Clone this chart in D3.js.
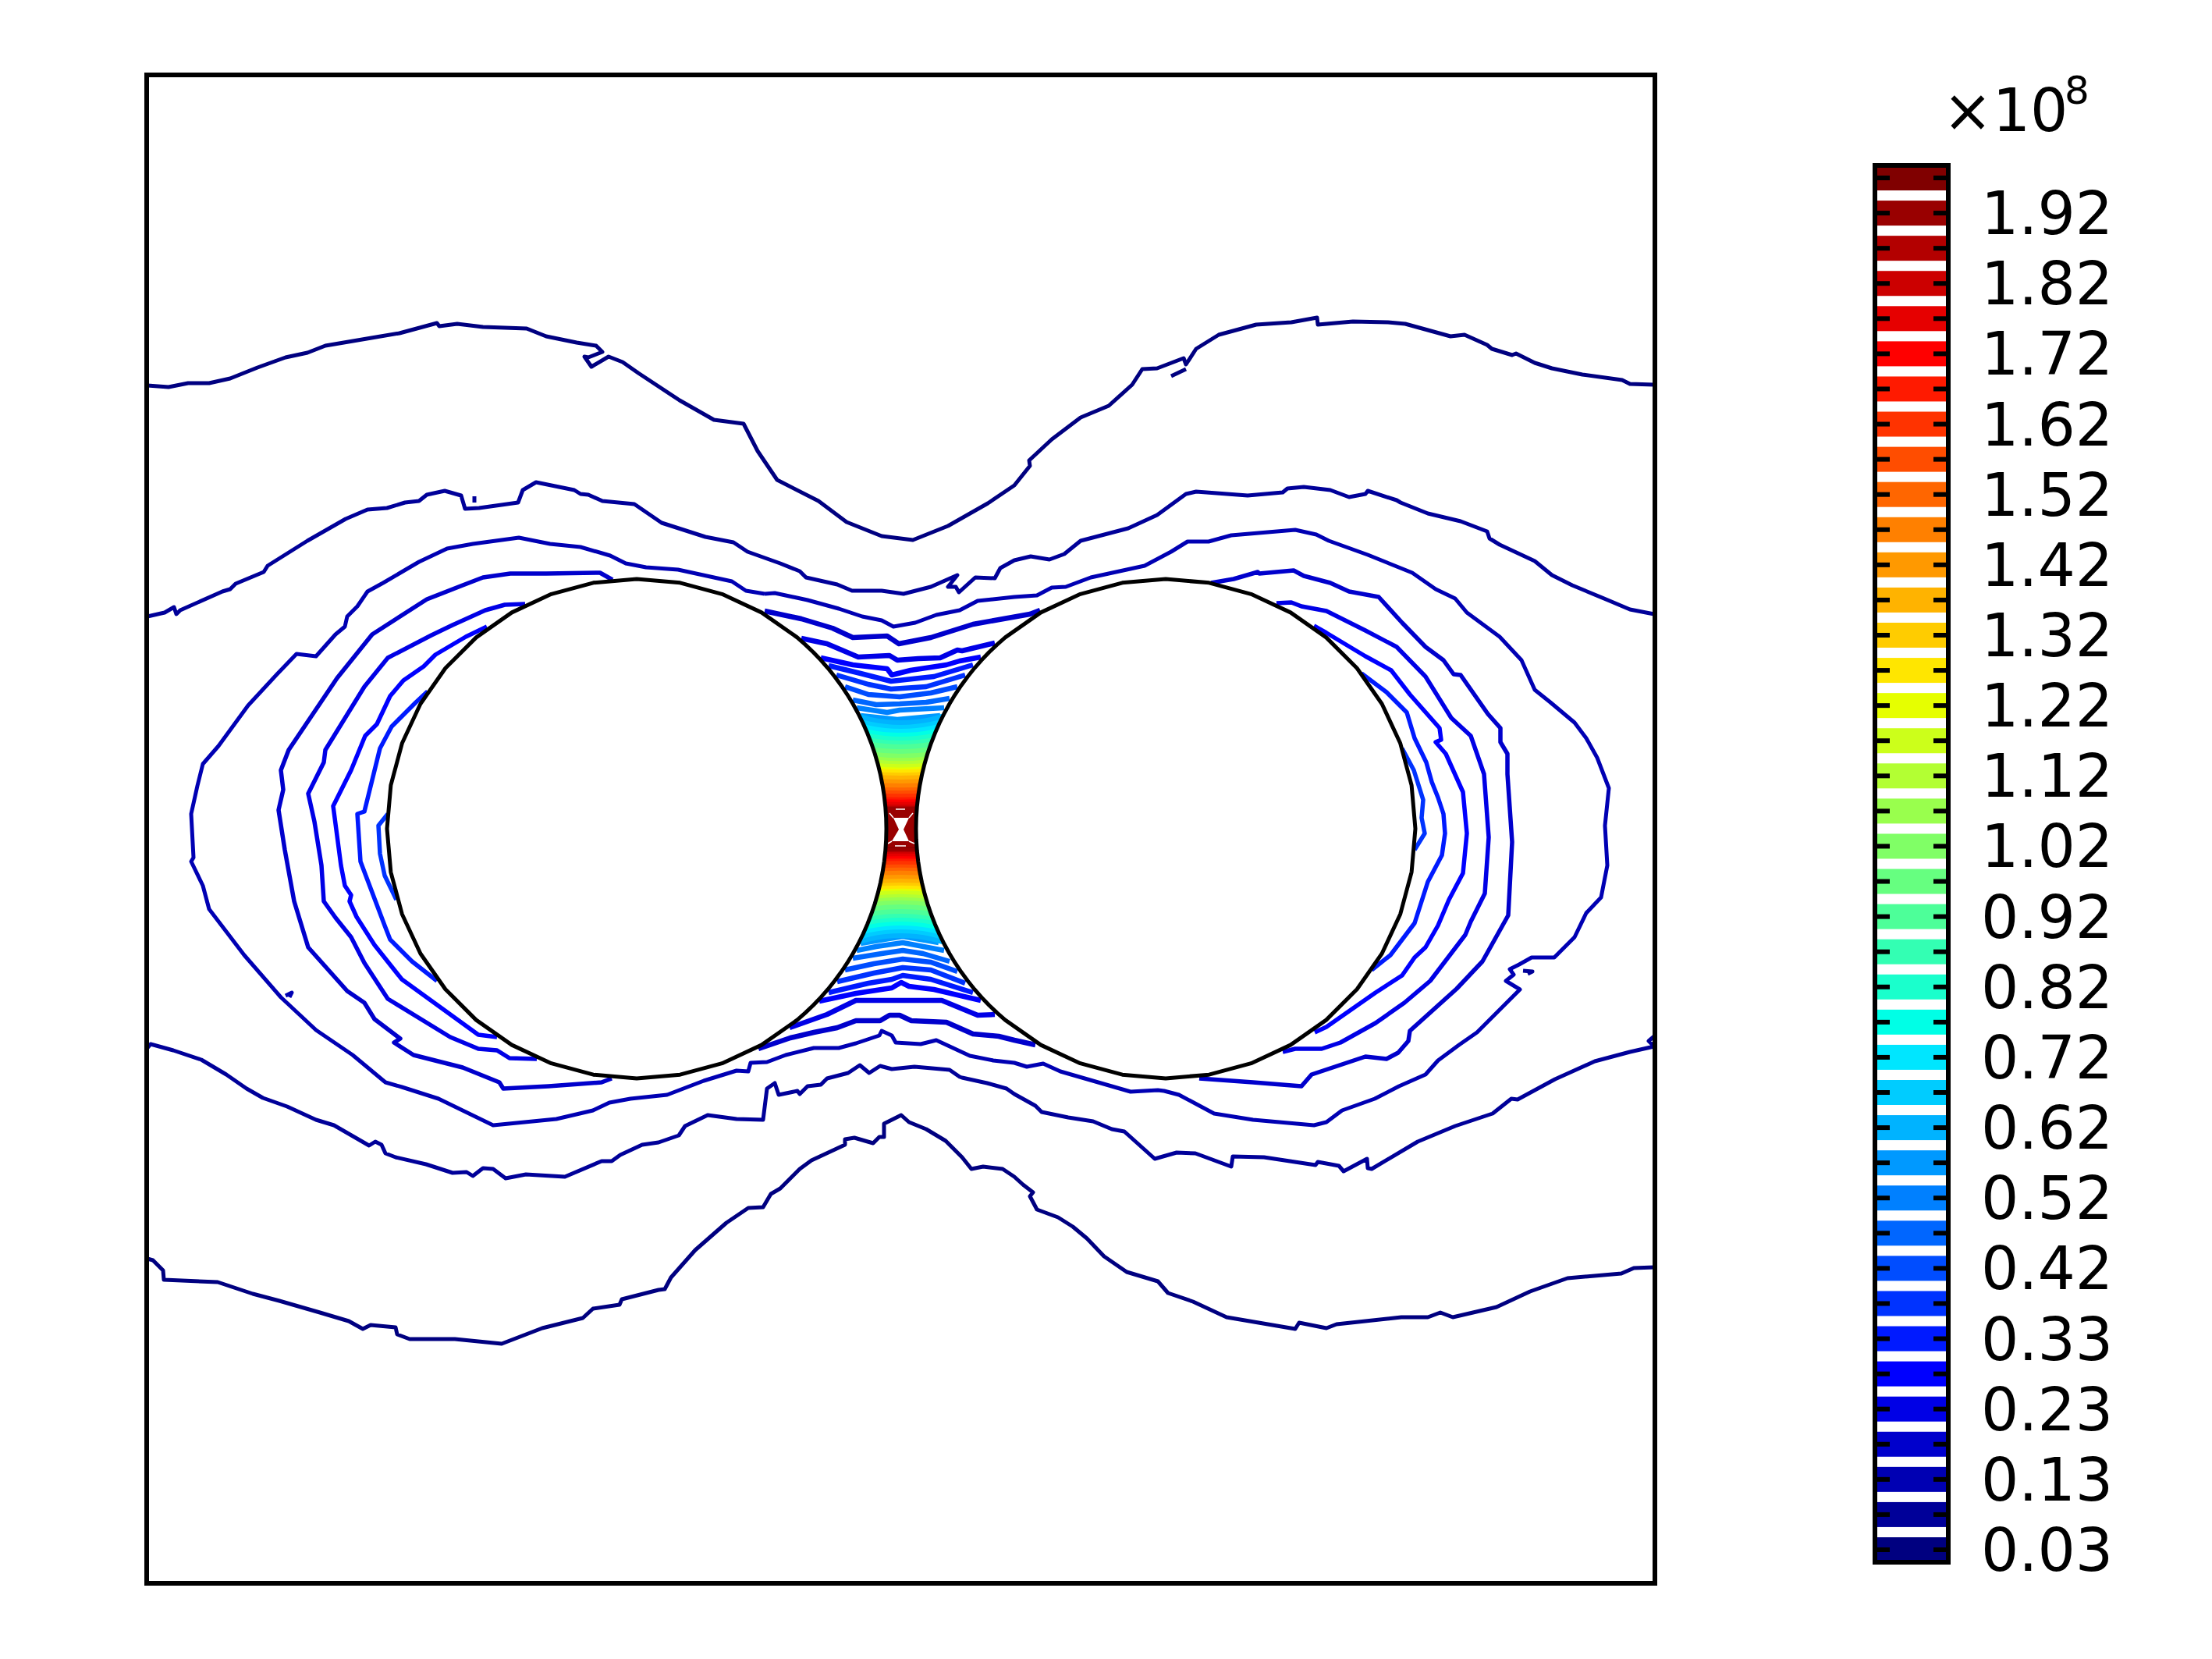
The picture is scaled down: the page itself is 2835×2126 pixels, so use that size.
<!DOCTYPE html>
<html>
<head>
<meta charset="utf-8">
<script src="https://cdnjs.cloudflare.com/ajax/libs/d3/7.8.5/d3.min.js"></script>
<style>html,body{margin:0;background:#fff}svg{display:block}text{font-family:"DejaVu Sans",sans-serif;fill:#000}</style>
</head>
<body>
<div id="chart"></div>
<script>
// Plot-plane units: 0..1933 across, 0..1933 down.
const contourA=[[1,398],[28,400],[53,395],[80,395],[107,389],[142,375],[178,362],[206,356],[229,347],[288,337],[324,331],[372,318],[375,322],[398,319],[431,323],[487,325],[512,335],[551,343],[576,347],[584,355],[566,362],[561,361],[570,374],[592,361],[610,368],[630,382],[683,417],[727,442],[765,447],[783,482],[808,519],[861,546],[897,573],[942,591],[982,596],[1027,578],[1078,549],[1112,526],[1132,501],[1131,494],[1160,467],[1197,439],[1233,424],[1263,397],[1276,377],[1295,376],[1329,363],[1332,371],[1345,351],[1374,333],[1422,320],[1467,317],[1500,311],[1501,320],[1546,316],[1591,317],[1613,319],[1642,327],[1671,335],[1689,333],[1718,346],[1724,351],[1750,359],[1755,357],[1779,369],[1801,376],[1840,384],[1891,391],[1901,396],[1932,397]];
const contourB=[[1,694],[23,689],[35,682],[38,691],[43,686],[97,662],[107,659],[114,652],[150,637],[155,629],[206,597],[255,569],[283,557],[308,555],[331,548],[349,546],[359,538],[382,533],[403,539],[408,556],[426,555],[476,548],[482,532],[499,522],[548,532],[556,537],[566,538],[584,546],[625,550],[660,574],[716,592],[752,599],[770,611],[812,626],[837,636],[845,644],[885,653],[904,661],[942,661],[970,665],[1005,656],[1039,641],[1027,656],[1037,656],[1041,663],[1062,644],[1087,645],[1094,632],[1112,622],[1133,617],[1157,621],[1176,614],[1197,597],[1258,581],[1295,564],[1332,537],[1345,534],[1411,539],[1456,535],[1462,530],[1483,528],[1517,532],[1541,541],[1562,537],[1565,533],[1602,545],[1607,548],[1642,562],[1684,572],[1718,585],[1721,594],[1734,602],[1779,623],[1801,641],[1827,654],[1875,674],[1901,685],[1932,691]];
const contourC=[[792,665],[768,661],[750,649],[681,634],[640,631],[614,626],[594,616],[556,605],[517,601],[477,593],[418,601],[385,607],[349,624],[303,651],[283,662],[270,681],[257,694],[254,707],[242,717],[217,745],[192,742],[167,768],[130,808],[92,860],[72,883],[65,911],[57,947],[60,1003],[57,1008],[72,1039],[80,1069],[125,1128],[172,1182],[217,1224],[264,1256],[306,1291],[327,1297],[374,1312],[444,1346],[525,1338],[572,1327],[593,1317],[620,1312],[667,1307],[714,1289],[756,1276],[771,1277],[774,1266],[795,1265],[819,1256],[855,1247],[887,1247],[909,1241],[939,1231],[942,1225],[955,1231],[960,1240],[992,1242],[1012,1237],[1055,1257],[1085,1263],[1112,1266],[1128,1271],[1149,1267],[1171,1277],[1261,1303],[1296,1301],[1304,1302],[1323,1307],[1368,1331],[1418,1339],[1496,1346],[1512,1342],[1532,1327],[1574,1312],[1605,1296],[1639,1281],[1655,1263],[1682,1243],[1705,1227],[1725,1207],[1760,1172],[1742,1161],[1752,1153],[1747,1146],[1759,1140],[1775,1131],[1804,1131],[1830,1105],[1845,1074],[1864,1054],[1872,1013],[1869,962],[1874,914],[1859,875],[1845,850],[1830,830],[1799,804],[1779,788],[1762,750],[1734,720],[1692,689],[1677,671],[1652,659],[1622,638],[1565,615],[1515,597],[1499,589],[1472,583],[1390,590],[1361,598],[1334,598],[1313,611],[1279,629],[1210,644],[1178,656],[1160,657],[1141,667],[1112,669],[1065,674],[1042,686],[1012,692],[985,702],[957,707],[942,699],[917,694],[887,684],[847,673],[805,664],[792,665]];
const contourE=[[1,1247],[5,1242],[34,1250],[70,1262],[102,1281],[128,1299],[149,1311],[180,1322],[217,1339],[240,1346],[285,1372],[293,1367],[301,1371],[306,1382],[319,1387],[358,1396],[392,1407],[410,1406],[418,1411],[431,1401],[444,1402],[460,1414],[486,1409],[536,1412],[583,1392],[596,1392],[607,1384],[635,1371],[656,1368],[682,1359],[690,1347],[719,1333],[756,1338],[790,1339],[795,1299],[805,1292],[810,1307],[834,1302],[837,1306],[847,1296],[864,1294],[872,1286],[899,1279],[914,1269],[926,1279],[940,1270],[955,1274],[984,1271],[1029,1275],[1042,1284],[1045,1285],[1077,1292],[1102,1299],[1112,1306],[1139,1321],[1147,1329],[1181,1336],[1213,1341],[1237,1351],[1253,1354],[1292,1389],[1320,1381],[1344,1382],[1390,1399],[1392,1386],[1432,1387],[1498,1397],[1501,1393],[1528,1398],[1534,1405],[1564,1389],[1565,1401],[1570,1402],[1629,1367],[1677,1347],[1725,1331],[1749,1312],[1757,1313],[1805,1287],[1856,1264],[1901,1252],[1932,1245],[1925,1238],[1932,1232]];
const contourF=[[1,1517],[8,1519],[21,1532],[22,1544],[91,1547],[136,1562],[170,1571],[222,1586],[259,1597],[277,1607],[287,1602],[319,1605],[321,1614],[337,1620],[395,1620],[455,1626],[507,1606],[559,1593],[572,1581],[606,1576],[609,1569],[656,1557],[664,1556],[672,1541],[703,1506],[743,1471],[771,1452],[790,1451],[800,1434],[812,1427],[837,1402],[852,1391],[895,1371],[895,1364],[907,1362],[931,1369],[939,1361],[945,1361],[945,1344],[967,1333],[977,1342],[999,1351],[1024,1366],[1045,1387],[1057,1402],[1072,1399],[1097,1402],[1112,1412],[1123,1422],[1136,1432],[1132,1437],[1141,1454],[1168,1464],[1187,1476],[1205,1491],[1227,1514],[1256,1534],[1296,1546],[1309,1561],[1341,1572],[1384,1592],[1472,1607],[1477,1599],[1512,1606],[1525,1601],[1608,1592],[1642,1592],[1658,1586],[1674,1592],[1730,1579],[1773,1559],[1821,1542],[1890,1536],[1906,1529],[1932,1528]];
const leftLevel3=[[597,647],[581,638],[512,639],[466,639],[431,644],[405,654],[359,672],[289,717],[244,773],[182,865],[172,891],[175,916],[169,942],[177,993],[189,1059],[207,1118],[232,1146],[257,1174],[279,1189],[292,1210],[325,1235],[317,1240],[342,1256],[405,1272],[452,1291],[457,1299],[515,1296],[583,1291],[596,1286]];
const leftLevel4=[[485,678],[459,679],[434,686],[392,705],[365,718],[309,747],[279,784],[229,865],[227,881],[207,921],[215,957],[224,1013],[227,1059],[242,1080],[262,1105],[279,1138],[309,1184],[389,1233],[425,1248],[449,1250],[465,1260],[500,1261]];
const leftLevel5=[[436,707],[409,720],[370,743],[355,758],[329,776],[312,796],[295,832],[280,847],[262,891],[239,937],[249,1013],[254,1039],[262,1051],[260,1059],[269,1079],[292,1115],[327,1159],[425,1230],[449,1233]];
const leftLevel6=[[360,790],[345,804],[314,835],[299,863],[279,944],[270,947],[274,1008],[305,1090],[312,1108],[340,1136],[372,1161]];
const leftLevel7=[[309,947],[297,962],[299,998],[305,1026],[320,1057]];
const rightLevel3=[[1364,651],[1393,646],[1424,637],[1426,639],[1470,635],[1483,642],[1517,651],[1541,662],[1579,669],[1609,702],[1639,733],[1662,750],[1675,768],[1684,769],[1719,819],[1735,837],[1735,855],[1744,870],[1744,896],[1750,983],[1745,1077],[1712,1136],[1679,1171],[1619,1225],[1617,1238],[1604,1253],[1589,1261],[1562,1258],[1538,1266],[1493,1281],[1480,1296],[1418,1291],[1349,1286]];
const rightLevel4=[[1448,677],[1467,676],[1480,681],[1512,687],[1562,712],[1602,733],[1639,771],[1672,824],[1697,847],[1714,896],[1720,977],[1715,1049],[1697,1085],[1690,1102],[1645,1161],[1612,1189],[1575,1215],[1530,1240],[1506,1248],[1472,1248],[1456,1252]];
const rightLevel5=[[1496,706],[1512,715],[1562,745],[1595,763],[1619,794],[1657,837],[1659,852],[1652,855],[1665,870],[1687,919],[1692,972],[1687,1023],[1669,1057],[1655,1090],[1639,1118],[1625,1131],[1609,1154],[1575,1176],[1512,1220],[1497,1227]];
const rightLevel6=[[1557,767],[1589,791],[1615,817],[1625,850],[1640,881],[1647,906],[1655,926],[1662,947],[1664,972],[1660,1000],[1642,1034],[1625,1087],[1594,1128],[1570,1147]];
const rightLevel7=[[1609,863],[1624,891],[1636,929],[1634,952],[1638,972],[1625,993]];
const gapTop3=[[792,687],[839,697],[879,709],[905,721],[949,719],[964,729],[1005,721],[1059,704],[1132,691],[1145,686]];
const gapTop4=[[839,722],[872,729],[912,746],[952,744],[962,750],[989,748],[1017,747],[1039,737],[1045,738],[1087,728]];
const gapTop5=[[864,747],[905,756],[949,761],[955,769],[979,763],[1025,756],[1042,751],[1069,746]];
const gapTop6=[[874,757],[915,767],[954,777],[1009,771],[1059,756]];
const gapTop7=[[884,769],[925,781],[954,787],[999,784],[1049,769]];
const gapTop8=[[895,784],[925,794],[965,797],[1005,792],[1039,784]];
const gapTop9=[[905,801],[935,807],[965,806],[999,804],[1029,799]];
const gapTop10=[[910,811],[949,817],[965,814],[1022,811]];
const gapTop11=[[915,821],[962,826],[1017,821]];
const gapBot3=[[784,1248],[825,1234],[855,1227],[885,1221],[909,1212],[940,1212],[952,1205],[965,1205],[980,1212],[1025,1214],[1059,1229],[1092,1232],[1112,1237],[1139,1243]];
const gapBot4=[[824,1221],[872,1204],[909,1186],[965,1186],[1019,1186],[1065,1205],[1087,1204]];
const gapBot5=[[862,1187],[909,1177],[955,1170],[967,1163],[977,1168],[1009,1172],[1069,1186]];
const gapBot6=[[874,1176],[925,1164],[955,1159],[969,1154],[1005,1159],[1059,1176]];
const gapBot7=[[885,1162],[932,1151],[969,1144],[1005,1147],[1049,1164]];
const gapBot8=[[895,1147],[932,1139],[969,1133],[1005,1137],[1039,1149]];
const gapBot9=[[905,1132],[942,1126],[969,1122],[995,1126],[1029,1136]];
const gapBot10=[[910,1122],[935,1117],[969,1112],[1022,1122]];
const gapBot11=[[915,1113],[969,1104],[1015,1112]];
const islandA=[[1313,386],[1332,377]];
const islandB=[[420,540],[420,548]];
const islandC=[[178,1180],[186,1176],[183,1182]];
const islandD=[[1764,1148],[1776,1149],[1770,1152]];
const contourLevels=[[0,contourA],[0,contourF],[0,islandA],[1,contourB],[1,contourE],[1,islandB],[1,islandD],[2,contourC],[2,islandC],[3,leftLevel3],[3,rightLevel3],[3,gapTop3],[3,gapBot3],[4,leftLevel4],[4,rightLevel4],[4,gapTop4],[4,gapBot4],[5,leftLevel5],[5,rightLevel5],[5,gapTop5],[5,gapBot5],[6,leftLevel6],[6,rightLevel6],[6,gapTop6],[6,gapBot6],[7,leftLevel7],[7,rightLevel7],[7,gapTop7],[7,gapBot7],[8,gapTop8],[8,gapBot8],[9,gapTop9],[9,gapBot9],[10,gapTop10],[10,gapBot10],[11,gapTop11],[11,gapBot11]];
const gapLines=[gapTop3,gapTop4,gapTop5,gapTop6,gapTop7,gapTop8,gapTop9,gapTop10,gapTop11,gapBot3,gapBot4,gapBot5,gapBot6,gapBot7,gapBot8,gapBot9,gapBot10,gapBot11];

// Distance of each high level from the narrowest point of the gap.
const neckLevels=[12,13,14,15,16,17,18,19,20,21,22,23,24,25,26,27,28,29,30,31,32,33,34,35,36,37,38,39];
const neckOffsets=[136,130,125,120,115,110,105,99,93,88,84,80,76,73,69,65,60,55,50,46,42,38,35,32,29,27,25,21];
const hourglass=[[957,952],[977,952],[970,967],[977,982],[955,982],[964,967]];
const chevrons=[[[960,941],[972,941]],[[959,988],[973,988]],[[952,946],[957,952]],[[982,946],[977,952]],[[950,985],[955,982]],[[984,985],[977,982]]];

const circleCentres=[[628,966,90],[1306,966,270]];
const circleRadius=320;
const gapCentre=[966.5,966.5];
const coarseFacet=d3.range(0,360,10);
const fineFacet=d3.range(-50,51,2.5);

const barLabels=["0.03","0.13","0.23","0.33","0.42","0.52","0.62","0.72","0.82","0.92","1.02","1.12","1.22","1.32","1.42","1.52","1.62","1.72","1.82","1.92"];
const barLevels=d3.range(40);
const rampStops=[0,5,14,15,24,25,34,39];
const rampColors=["#000080","#0000ff","#00e6ff","#00ffe6","#e6ff00","#ffe600","#ff0000","#800000"];

const W=2835,H=2126;
const svg=d3.select("#chart").append("svg").attr("width",W).attr("height",H).attr("viewBox",`0 0 ${W} ${H}`);
const x=d3.scaleLinear().domain([0,1933]).range([188,2121]);
const y=d3.scaleLinear().domain([0,1933]).range([96,2029]);
const ramp=d3.scaleLinear().domain(rampStops).range(rampColors).interpolate(d3.interpolateRgb);
const line=d3.line().x(d=>x(d[0])).y(d=>y(d[1]));

// contour lines
svg.append("g").attr("fill","none").attr("stroke-linejoin","round")
 .selectAll("path").data(contourLevels).join("path")
 .attr("d",d=>line(d[1])).attr("stroke",d=>ramp(d[0]))
 .attr("stroke-width",d=>gapLines.includes(d[1])?6.5:d[0]<3?5:5.5);

// filled neck between the circles
const neck=svg.append("g").attr("fill","none");
const curve=d3.line().x(d=>x(d[0])).y(d=>y(d[1])).curve(d3.curveNatural);
svg.append("path").attr("d",line([[936,939],[997,939],[997,990],[936,990]])+"Z").attr("fill",ramp(38));
neckLevels.forEach((lev,i)=>{
  const off=neckOffsets[i];
  const next=i+1<neckOffsets.length?neckOffsets[i+1]:off-4;
  const sw=Math.min(7,off-next+2.5);
  [-1,1].forEach(side=>{
    const pts=[-75,-40,0,40,75].map(dx=>[gapCentre[0]+dx,gapCentre[1]+side*(off+off*0.1*(dx/70)*(dx/70))]);
    neck.append("path").attr("d",curve(pts)).attr("stroke",ramp(lev)).attr("stroke-width",sw);
  });
});
svg.append("path").attr("d",line(hourglass)+"Z").attr("fill","#fff");
svg.append("g").attr("fill","none").attr("stroke","#fff").attr("stroke-width",1.5)
 .selectAll("path").data(chevrons).join("path").attr("d",line);

// two circles
const radial=d3.lineRadial().angle(d=>d*Math.PI/180).radius(circleRadius).curve(d3.curveLinearClosed);
const facets=g=>{
  const fine=fineFacet.map(a=>(a+g+360)%360);
  const coarse=coarseFacet.filter(a=>{const dd=Math.abs(((a-g+540)%360)-180);return dd>50;});
  return d3.sort(fine.concat(coarse));
};
svg.append("g").selectAll("path").data(circleCentres).join("path")
 .attr("transform",d=>`translate(${x(d[0])},${y(d[1])})`)
 .attr("d",d=>radial(facets(d[2])))
 .attr("fill","#fff").attr("stroke","#000").attr("stroke-width",5).attr("stroke-linejoin","round");

// frame
svg.append("rect").attr("x",x(0)).attr("y",y(0)).attr("width",x(1933)-x(0)).attr("height",y(1933)-y(0))
 .attr("fill","none").attr("stroke","#000").attr("stroke-width",6);

// colour bar
const barY=d3.scaleLinear().domain([0,39]).range([1986,228]);
const bar=svg.append("g");
bar.selectAll("rect.band").data(barLevels).join("rect").attr("class","band")
 .attr("x",2406).attr("width",88).attr("y",d=>barY(d)-16).attr("height",32).attr("fill",d=>ramp(d));
bar.selectAll("rect.tl").data(barLevels).join("rect").attr("class","tl")
 .attr("x",2406).attr("width",16).attr("y",d=>barY(d)-3).attr("height",6).attr("fill","#000");
bar.selectAll("rect.tr").data(barLevels).join("rect").attr("class","tr")
 .attr("x",2478).attr("width",16).attr("y",d=>barY(d)-3).attr("height",6).attr("fill","#000");
bar.append("rect").attr("x",2403).attr("y",212).attr("width",94).attr("height",1790)
 .attr("fill","none").attr("stroke","#000").attr("stroke-width",6);
bar.selectAll("text.lab").data(barLabels).join("text").attr("class","lab")
 .attr("x",2539).attr("y",(d,i)=>barY(i*2)+27).attr("font-size",76).text(d=>d);
bar.append("text").attr("x",2490).attr("y",168).attr("font-size",76).text("×10");
bar.append("text").attr("x",2646).attr("y",133).attr("font-size",50).text("8");
</script>
</body>
</html>
